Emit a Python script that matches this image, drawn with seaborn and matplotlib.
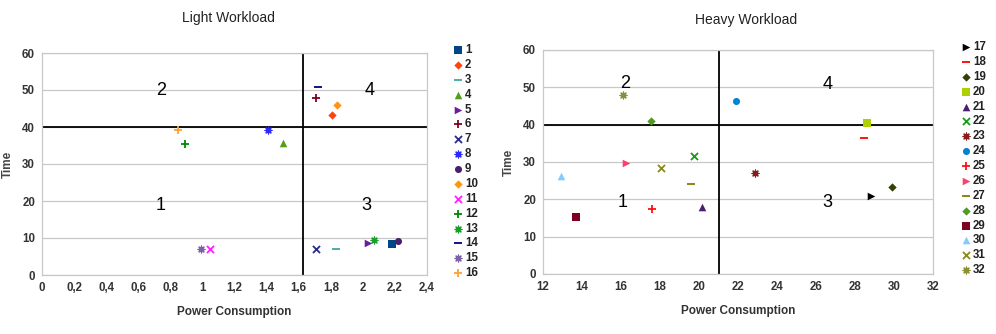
import matplotlib
matplotlib.use("Agg")
import matplotlib.pyplot as plt
from matplotlib.ticker import FuncFormatter, MultipleLocator
import seaborn as sns
import pandas as pd

# Light workload: series 1-16
light_ids = [str(i) for i in range(1, 17)]
light_power = [2.18, 1.81, 1.83, 1.50, 2.03, 1.71, 1.71, 1.41, 2.22, 1.84, 1.05, 0.89, 2.07, 1.72, 0.99, 0.85]
light_time = [8.4, 43.3, 7.0, 35.6, 8.6, 47.8, 7.1, 39.2, 9.2, 46.0, 6.9, 35.4, 9.4, 50.9, 7.1, 39.1]
light_markers = ["s", "D", "_", "^", ">", "+", "x", (8, 2, 0), "o", "D", "x", "+", (8, 2, 0), "_", (8, 2, 0), "+"]
light_colors = ["#004586", "#ff420e", "#3fa7a0", "#579d1c", "#6a1f9a", "#7e0021", "#2a2a8c", "#2a2aff",
                "#4b1f6f", "#ff950e", "#ff20ff", "#008a00", "#18a02a", "#000080", "#7b62a8", "#ffa030"]

# Heavy workload: series 17-32
heavy_ids = [str(i) for i in range(17, 33)]
heavy_power = [28.8, 28.45, 29.9, 28.6, 20.15, 19.75, 22.85, 21.9, 17.6, 16.25, 19.6, 17.55, 13.7, 12.9, 18.05, 16.1]
heavy_time = [21.0, 36.3, 23.4, 40.5, 18.0, 31.6, 27.0, 46.4, 17.3, 29.6, 24.1, 41.0, 15.4, 26.2, 28.4, 48.0]
heavy_markers = [">", "_", "D", "s", "^", "x", (8, 2, 0), "o", "+", ">", "_", "D", "s", "^", "x", (8, 2, 0)]
heavy_colors = ["#000000", "#ff0000", "#314004", "#aecf00", "#4b1f6f", "#1a9a1a", "#8b1a1a", "#0084d1",
                "#ff1010", "#ff3d6e", "#7f7f00", "#4f9a20", "#7e0021", "#83caff", "#8a8a1a", "#8f8f30"]

# Quadrant boundaries and their labels
light_split = (1.625, 40)
heavy_split = (21.0, 40)
quad_names = ["1", "2", "3", "4"]
light_quad_pos = [(0.74, 18.8), (0.74, 49.9), (2.02, 18.8), (2.04, 49.9)]
heavy_quad_pos = [(16.1, 19.2), (16.2, 51.1), (26.6, 19.2), (26.6, 50.7)]

sns.set_theme(style="white")
plt.rcParams["font.family"] = ["Liberation Sans", "DejaVu Sans"]

W, H = 996, 334
fig = plt.figure(figsize=(W / 100, H / 100), dpi=100)

GRID = "#c8c8c8"
TICK = "#333333"
SIZES = {"_": 40, "+": 34, "x": 26, "D": 18, "o": 26, "s": 28, "^": 30, ">": 30}


def panel(rect, ids, xs, ys, markers, colors, split, qpos, xlim, xstep, title, title_xy, legend_xy, comma):
    l, t, r, b = rect
    ax = fig.add_axes([l / W, 1 - b / H, (r - l) / W, (b - t) / H])
    df = pd.DataFrame({"id": ids, "power": xs, "time": ys})
    for i, row in df.iterrows():
        m = markers[i]
        if isinstance(m, tuple):
            size, kw = 24, dict(linewidth=0.9)
        elif m in ("_", "+", "x"):
            size, kw = SIZES[m], dict(linewidth=1.3)
        else:
            size, kw = SIZES[m], dict(linewidth=0)
        sns.scatterplot(x=[row.power], y=[row.time], marker=m, color=colors[i], s=size,
                        ax=ax, label=row.id, zorder=3, **kw)
    ax.axvline(split[0], color="black", lw=1.3, zorder=2)
    ax.axhline(split[1], color="black", lw=1.3, zorder=2)
    for name, (qx, qy) in zip(quad_names, qpos):
        ax.text(qx, qy, name, fontsize=13, ha="center", va="center", color="black")
    ax.set_xlim(*xlim)
    ax.set_ylim(0, 60)
    ax.xaxis.set_major_locator(MultipleLocator(xstep))
    ax.yaxis.set_major_locator(MultipleLocator(10))
    if comma:
        ax.xaxis.set_major_formatter(FuncFormatter(lambda v, p: f"{v:.1f}".rstrip("0").rstrip(".").replace(".", ",")))
    ax.yaxis.grid(True, color=GRID, lw=0.9)
    ax.xaxis.grid(False)
    for s in ax.spines.values():
        s.set_color(GRID)
        s.set_linewidth(0.9)
    ax.tick_params(axis="both", labelsize=8.3, colors=TICK, length=2, width=0.6, pad=3)
    for lab in ax.get_xticklabels() + ax.get_yticklabels():
        lab.set_fontweight("bold")
    ax.set_xlabel("Power Consumption", fontsize=8.5, fontweight="bold", color="#333333", labelpad=9)
    ax.set_ylabel("Time", fontsize=8.5, fontweight="bold", color="#444444", labelpad=6)
    fig.text(title_xy[0] / W, 1 - title_xy[1] / H, title, fontsize=10, color="#222222",
             ha="center", va="center")
    handles, labels = ax.get_legend_handles_labels()
    leg = ax.legend(handles, labels, loc="upper left", bbox_to_anchor=(legend_xy[0] / W, 1 - legend_xy[1] / H),
                    bbox_transform=fig.transFigure, frameon=False, fontsize=8.3, handlelength=0.6,
                    handletextpad=0.25, labelspacing=0.25, borderpad=0, borderaxespad=0, markerscale=1.0)
    for txt in leg.get_texts():
        txt.set_fontweight("bold")
        txt.set_color("#222222")
    return ax


panel((42, 53, 427, 275), light_ids, light_power, light_time, light_markers, light_colors,
      light_split, light_quad_pos, (0, 2.4), 0.2, "Light Workload", (228, 18), (455, 44), True)
panel((543, 50, 933, 274), heavy_ids, heavy_power, heavy_time, heavy_markers, heavy_colors,
      heavy_split, heavy_quad_pos, (12, 32), 2, "Heavy Workload", (746, 20), (963, 41), False)

fig.savefig("out.png", dpi=100)
